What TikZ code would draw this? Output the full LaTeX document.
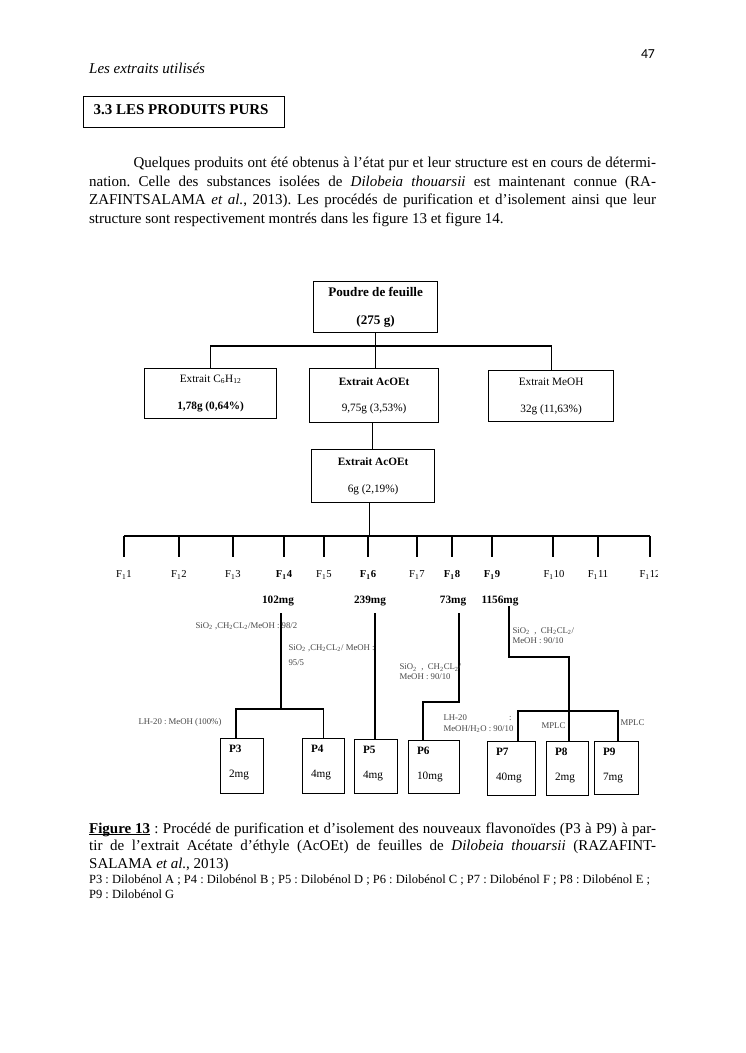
\documentclass[tikz,border=0pt]{standalone}
\usepackage{fontspec}
\setmainfont{Liberation Serif}
\newfontfamily\carlito{Carlito}
\usetikzlibrary{calc}
\newcommand\myul[1]{\setbox0\hbox{#1}\rlap{\rule[-1.6pt]{\wd0}{0.6pt}}\box0\relax}
\frenchspacing
\begin{document}
\begin{tikzpicture}[x=0.8pt,y=-0.8pt,
  line width=0.9pt,
  box/.style={draw, line width=1pt, inner sep=0pt, align=center, anchor=north west},
  pbox/.style={draw, line width=1pt, inner sep=0pt, anchor=north west},
  lab/.style={inner sep=0pt, anchor=west, align=left, text=black!72, font=\fontsize{7}{8.5}\selectfont},
  flab/.style={inner sep=0pt, font=\fontsize{8.5}{10}\selectfont},
  wlab/.style={inner sep=0pt, font=\fontsize{9}{10}\selectfont\bfseries},
  ptxt/.style={inner sep=0pt, anchor=base west, font=\fontsize{9}{10}\selectfont},
  ptxtb/.style={ptxt, font=\fontsize{9}{10}\selectfont\bfseries},
  body/.style={inner sep=0pt, anchor=base west, font=\fontsize{12}{14}\selectfont\frenchspacing},
  small/.style={inner sep=0pt, anchor=base west, font=\fontsize{10}{12}\selectfont\frenchspacing},
]
\fill[white] (0,0) rectangle (745,1053);
\useasboundingbox (0,0) rectangle (745,1053);

% ---------- header ----------
\node[anchor=base east, inner sep=0pt, font=\carlito\fontsize{11}{13}\selectfont] (pagenum) at (655.5,58) {47};
\node[body, font=\fontsize{12}{14}\selectfont\itshape] (runhead) at (88.6,73) {Les extraits utilisés};
\node[draw, line width=0.9pt, anchor=north west, inner sep=0pt, minimum width=160.8pt, minimum height=24.8pt] (hdrbox) at (83,96) {};
\node[body, font=\fontsize{12}{14}\selectfont\bfseries] (hdrtxt) at (93,114) {3.3 LES PRODUITS PURS};

% ---------- body text ----------
\node[body] (b1) at (133,167) {\hbox to 418pt{Quelques produits ont été obtenus à l’état pur et leur structure est en cours de détermi-}};
\node[body] (b2) at (88.6,186) {\hbox to 453.5pt{nation. Celle des substances isolées de \textit{Dilobeia thouarsii} est maintenant connue (RA-}};
\node[body] (b3) at (88.6,204.5) {\hbox to 453.5pt{ZAFINTSALAMA \textit{et al.}, 2013). Les procédés de purification et d’isolement ainsi que leur}};
\node[body] (b4) at (88.6,223) {structure sont respectivement montrés dans les figure 13 et figure 14.};

% ---------- top boxes ----------
\node[box, minimum width=99.2pt, minimum height=40.8pt, font=\fontsize{10.5}{12}\selectfont\bfseries] (poudre) at (313,281) {Poudre de feuille\\[10pt](275 g)};
\node[box, minimum width=105.6pt, minimum height=40pt, font=\fontsize{9}{11}\selectfont] (hex) at (144,368) {Extrait C\textsubscript{6}H\textsubscript{12}\\[10.5pt]\textbf{1,78g (0,64\%)}};
\node[box, minimum width=103.2pt, minimum height=43.2pt, font=\fontsize{9}{11}\selectfont] (acoet) at (309,368) {\textbf{Extrait AcOEt}\\[10pt]9,75g (3,53\%)};
\node[box, minimum width=100pt, minimum height=40.8pt, font=\fontsize{9}{11}\selectfont] (meoh) at (488,370) {Extrait MeOH\\[10.5pt]32g (11,63\%)};
\node[box, minimum width=98.4pt, minimum height=42.4pt, font=\fontsize{9}{11}\selectfont] (acoet2) at (311,449) {\textbf{Extrait AcOEt}\\[10.5pt]6g (2,19\%)};

\coordinate (barY) at (0,346);
\draw (poudre.south) -- (poudre.south |- acoet.north);
\draw (hex.north) -- (hex.north |- barY) -- (meoh.north |- barY) -- (meoh.north);
\draw ($(acoet.south)+(-2,0)$) -- ($(acoet.south |- acoet2.north)+(-2,0)$);

% ---------- fraction bar ----------
\coordinate (fbL) at (124,536);
\coordinate (fbR) at (650,536);
\draw ($(acoet2.south)+(-4,0)$) -- ($(acoet2.south |- fbL)+(-4,0)$);
\draw (fbL) -- (fbR);
\foreach \i/\x in {1/124,2/179,3/233,4/284,5/324,6/368,7/417,8/452,9/492,10/553,11/598,12/650}{
  \coordinate (t\i) at (\x,557);
  \draw (fbL -| t\i) -- (t\i);
}
\node[flab] (f1) at (124,575) {F\textsubscript{1}1};
\node[flab] (f2) at (179,575) {F\textsubscript{1}2};
\node[flab] (f3) at (233,575) {F\textsubscript{1}3};
\node[flab, font=\fontsize{8.5}{10}\selectfont\bfseries] (f4) at (284,575) {F\textsubscript{1}4};
\node[flab] (f5) at (324,575) {F\textsubscript{1}5};
\node[flab, font=\fontsize{8.5}{10}\selectfont\bfseries] (f6) at (368,575) {F\textsubscript{1}6};
\node[flab] (f7) at (417,575) {F\textsubscript{1}7};
\node[flab, font=\fontsize{8.5}{10}\selectfont\bfseries] (f8) at (452,575) {F\textsubscript{1}8};
\node[flab, font=\fontsize{8.5}{10}\selectfont\bfseries] (f9) at (492,575) {F\textsubscript{1}9};
\node[flab] (f10) at (554,575) {F\textsubscript{1}10};
\node[flab] (f11) at (598,575) {F\textsubscript{1}11};
\begin{scope}
  \clip (600,560) rectangle (657,590);
  \node[flab, anchor=west] (f12) at (639,575) {F\textsubscript{1}12};
\end{scope}

% ---------- weights ----------
\node[wlab] (w4) at (278,601) {102mg};
\node[wlab] (w6) at (370,601) {239mg};
\node[wlab] (w8) at (453,601) {73mg};
\node[wlab] (w9) at (500,601) {1156mg};
\coordinate (w4b) at (281,613);
\coordinate (w6b) at (375,613);
\coordinate (w8b) at (459,613);
\coordinate (w9b) at (509,606);

% ---------- product boxes ----------
\node[pbox, minimum width=34.4pt, minimum height=44pt] (p3) at (220,738) {};
\node[pbox, minimum width=33.6pt, minimum height=44pt] (p4) at (302,738) {};
\node[pbox, minimum width=34.4pt, minimum height=43.2pt] (p5) at (354,739) {};
\node[pbox, minimum width=40.8pt, minimum height=42.4pt] (p6) at (408,740) {};
\node[pbox, minimum width=38.4pt, minimum height=43.2pt] (p7) at (487,741) {};
\node[pbox, minimum width=33.6pt, minimum height=43.2pt] (p8) at (546,741) {};
\node[pbox, minimum width=35.2pt, minimum height=42.4pt] (p9) at (594,741) {};
\foreach \p/\m in {p3/2mg,p4/4mg,p5/4mg,p6/10mg,p7/40mg,p8/2mg,p9/7mg}{
  \node[ptxtb] (\p a) at ($(\p.north west)+(8.5,14)$) {\MakeUppercase\p};
  \node[ptxt] (\p b) at ($(\p.north west)+(8.5,39)$) {\m};
}

% ---------- connectors to products ----------
\coordinate (j34) at (281,709);
\draw (w4b) -- (j34);
\draw (p3.north west) ++(16,0) |- (j34) -| (p4.north);
\draw (w6b) -- (w6b |- p5.north);
\draw (w8b) -- ++(0,89) -| ($(p6.north west)+(15,0)$);
\draw (w9b) -- ++(0,51) -| ($(p8.north west)+(23,0)$);
\draw ($(p7.north west)+(31,0)$) |- ($(p9.north west)+(24,-30)$) -- ($(p9.north west)+(24,0)$);

% ---------- method labels ----------
\node[lab] (l1) at (195,626) {SiO\textsubscript{2} ,CH\textsubscript{2}CL\textsubscript{2}/MeOH : 98/2};
\node[lab] (l2) at (288,655) {SiO\textsubscript{2} ,CH\textsubscript{2}CL\textsubscript{2}/ MeOH :\\[4pt]95/5};
\node[lab] (l3) at (138,722) {LH-20 : MeOH (100\%)};
\node[lab, font=\fontsize{7}{8}\selectfont] (l4) at (399,672) {SiO\textsubscript{2}\ \ , \ CH\textsubscript{2}CL\textsubscript{2}/\\MeOH : 90/10};
\node[lab, font=\fontsize{7}{8.5}\selectfont] (l5) at (512,635.5) {SiO\textsubscript{2}\ \ , \ CH\textsubscript{2}CL\textsubscript{2}/\\MeOH : 90/10};
\node[lab, font=\fontsize{7}{8.5}\selectfont] (l6) at (443,723.5) {\hbox to 54.4pt{LH-20\hfill:}\\MeOH/H\textsubscript{2}O : 90/10};
\node[lab] (l7) at (541,726) {MPLC};
\node[lab] (l8) at (620,723) {MPLC};

% ---------- caption ----------
\node[body] (c1) at (88.6,833) {\hbox to 453.5pt{\myul{\textbf{Figure 13}} : Procédé de purification et d’isolement des nouveaux flavonoïdes (P3 à P9) à par-}};
\node[body] (c2) at (88.6,850.5) {\hbox to 453.5pt{tir de l’extrait Acétate d’éthyle (AcOEt) de feuilles de \textit{Dilobeia thouarsii} (RAZAFINT-}};
\node[body] (c3) at (88.6,868) {SALAMA \textit{et al.}, 2013)};
\node[small] (s1) at (88.6,883) {P3 : Dilobénol A ; P4 : Dilobénol B ; P5 : Dilobénol D ; P6 : Dilobénol C ; P7 : Dilobénol F ; P8 : Dilobénol E ;};
\node[small] (s2) at (88.6,898) {P9 : Dilobénol G};
\end{tikzpicture}
\end{document}
